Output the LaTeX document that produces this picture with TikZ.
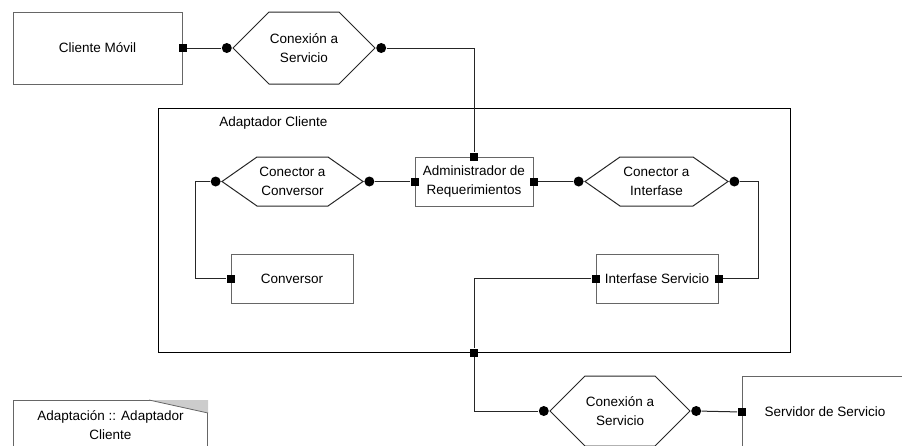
\documentclass[tikz,border=0pt]{standalone}
\usepackage{fontspec}
\setmainfont{Liberation Sans}
\usetikzlibrary{shapes,shapes.symbols,positioning,calc}

\begin{document}
\begin{tikzpicture}[x=1pt,y=-1pt,line width=1pt,
  every node/.style={font=\fontsize{13.5}{19}\selectfont},
  comp/.style={draw=black!60,rectangle,align=center,inner sep=0pt},
  conn/.style={draw=black!85,signal,signal to=west and east,align=center,inner sep=0pt},
  port/.style={fill=black,rectangle,minimum size=8pt,inner sep=0pt},
  dot/.style={fill=black,circle,minimum size=10pt,inner sep=0pt},
  wire/.style={draw=black!85}]
\useasboundingbox (0,0) rectangle (902,445);
\clip (0,0) rectangle (902,445);

% outer box
\node[draw=black,minimum width=632pt,minimum height=244pt,inner sep=0pt] (adapt) at (474,230) {};
\node[anchor=west] (adaptlbl) at ($(adapt.north west)+(58,16)$) {Adaptador Cliente};

% components
\node[comp,minimum width=169pt,minimum height=72pt] (cliente) at (97.5,48) {Cliente M\'ovil};
\node[comp,minimum width=118pt,minimum height=49pt] (admin) at (474,181.5) {Administrador de\\Requerimientos};
\node[comp,minimum width=122pt,minimum height=49pt] (conv) at (292,278.5) {Conversor};
\node[comp,minimum width=122pt,minimum height=49pt] (intserv) at (657,278.5) {Interfase Servicio};
\node[comp,minimum width=166pt,minimum height=72pt] (servidor) at (825,412) {Servidor de Servicio};

% connectors
\node[conn,minimum width=142pt,minimum height=72pt,signal pointer angle=90] (conA) at (304,48) {Conexi\'on a\\Servicio};
\node[conn,minimum width=141pt,minimum height=49pt,signal pointer angle=70] (conConv) at (292.5,181.5) {Conector a\\Conversor};
\node[conn,minimum width=143pt,minimum height=49pt,signal pointer angle=70] (conInt) at (656.5,181.5) {Conector a\\Interfase};
\node[conn,minimum width=140pt,minimum height=70pt,signal pointer angle=90] (conB) at (620,411) {Conexi\'on a\\Servicio};

% note
\node[draw=black!60,anchor=north west,minimum width=194pt,minimum height=50pt,inner sep=4pt,align=center,anchor=north west] (nota) at (13,400) {Adaptaci\'on :: Adaptador\\Cliente};
\fill[black!20] ($(nota.north east)+(-59,0)$) -- (nota.north east) -- ++(0,13) -- cycle;
\draw[black!60,line width=0.8pt] ($(nota.north east)+(-59,0)$) -- ++(59,13);

% ports
\node[port] (pCli) at (cliente.east) {};
\node[port] (pAdmN) at (admin.north) {};
\node[port] (pAdmW) at (admin.west) {};
\node[port] (pAdmE) at (admin.east) {};
\node[port] (pConv) at (conv.west) {};
\node[port] (pIntW) at (intserv.west) {};
\node[port] (pIntE) at (intserv.east) {};
\node[port] (pAdapt) at (adapt.south) {};
\node[port] (pServ) at (servidor.west) {};

% dots
\node[dot,anchor=east] (dAw) at (conA.west) {};
\node[dot,anchor=west] (dAe) at (conA.east) {};
\node[dot,anchor=east] (dCw) at (conConv.west) {};
\node[dot,anchor=west] (dCe) at (conConv.east) {};
\node[dot,anchor=east] (dIw) at (conInt.west) {};
\node[dot,anchor=west] (dIe) at (conInt.east) {};
\node[dot,anchor=east] (dBw) at (conB.west) {};
\node[dot,anchor=west] (dBe) at (conB.east) {};

% wires
\draw[wire] (pCli) -- (dAw);
\draw[wire] (dAe) -| (pAdmN);
\draw[wire] (dCw) -- ++(-20,0) |- (pConv);
\draw[wire] (dCe) -- (pAdmW);
\draw[wire] (pAdmE) -- (dIw);
\draw[wire] (dIe) -- ++(24,0) |- (pIntE);
\draw[wire] (pIntW) -| (pAdapt);
\draw[wire] (pAdapt) |- (dBw);
\draw[wire] (dBe) -- (pServ);
\end{tikzpicture}
\end{document}
